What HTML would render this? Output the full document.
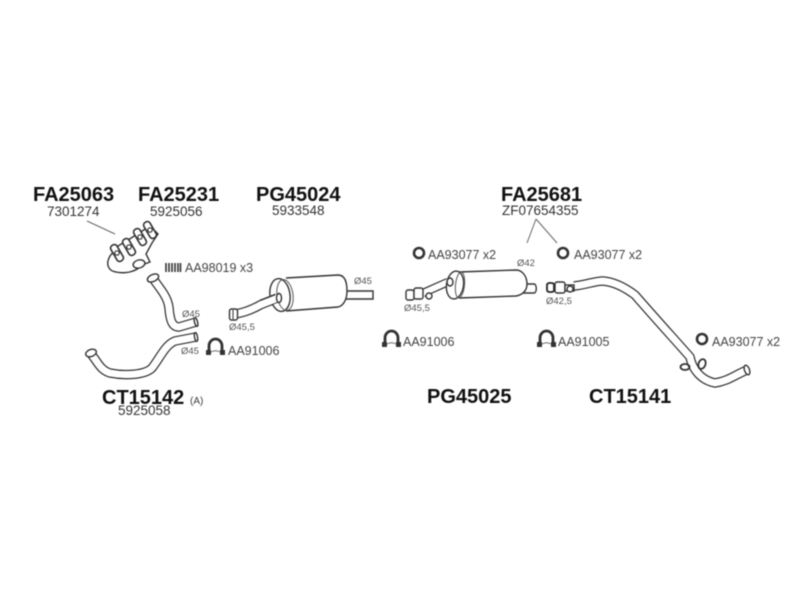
<!DOCTYPE html>
<html><head><meta charset="utf-8">
<style>
html,body{margin:0;padding:0;background:#fff;width:800px;height:600px;overflow:hidden}
svg{display:block;filter:blur(.4px)}
text{font-family:"Liberation Sans",sans-serif;fill:#3a3a3a}
.b{font-weight:bold;font-size:20px;fill:#111}
.n{font-size:13.5px;fill:#333}
.l{font-size:12.5px;fill:#444}
.d{font-size:9.5px;fill:#555}
.o{fill:none;stroke:#333;stroke-linejoin:round;stroke-linecap:butt}
.w{fill:none;stroke:#fff;stroke-linejoin:round;stroke-linecap:butt}
.s{fill:#fff;stroke:#333;stroke-width:1.4}
.r{fill:none;stroke:#333;stroke-width:2.6}
</style></head><body>
<svg width="800" height="600" viewBox="0 0 800 600" xmlns="http://www.w3.org/2000/svg">
<defs>
<g id="c"><path d="M210 354V346a6.5 7 0 0 1 13 0V354" fill="none" stroke="#333" stroke-width="2.8"/><path d="M207 350h5v5h-5zM221 350h5v5h-5z" fill="#333"/><path d="M212 352q4.500 -2.500 9 0" fill="none" stroke="#666"/></g>
</defs>
<!-- Titles -->
<text class="b" x="33" y="201">FA25063</text><text class="n" x="47" y="216">7301274</text>
<text class="b" x="138" y="201">FA25231</text><text class="n" x="150" y="216">5925056</text>
<text class="b" x="256" y="201">PG45024</text><text class="n" x="272" y="215">5933548</text>
<text class="b" x="501" y="201">FA25681</text><text class="n" x="502" y="215">ZF07654355</text>
<text class="b" x="102" y="404">CT15142</text><text x="190" y="404" font-size="10" fill="#555">(A)</text><text class="n" x="118" y="415">5925058</text>
<text class="b" x="427" y="403">PG45025</text>
<text class="b" x="589" y="403">CT15141</text>
<!-- leader lines -->
<path d="M87 221L115 234" stroke="#666" fill="none"/>
<path d="M536 219L527 243M536 219L557 243" stroke="#666" fill="none"/>
<!-- Manifold -->
<path class="s" d="M110 256C105 265 109 271 116 272C125 274 136 272 142 265L150 262L146 254L152 243L158 234L150 226L128 240L118 246Z"/>
<g fill="#fff" stroke="#333" stroke-width="1.6">
<rect x="-3.500" y="-9" width="7" height="18" rx="3" transform="translate(117 253) rotate(-30)"/>
<rect x="-3.500" y="-9" width="7" height="18" rx="3" transform="translate(129 247) rotate(-30)"/>
<rect x="-3.500" y="-9" width="7" height="18" rx="3" transform="translate(140 237) rotate(-30)"/>
<rect x="-3.500" y="-9" width="7" height="18" rx="3" transform="translate(150 230) rotate(-30)"/>
</g>
<g fill="none" stroke="#333" stroke-width="1.2"><circle cx="117" cy="253" r="2.2"/><circle cx="129" cy="247" r="2.2"/><circle cx="140" cy="237" r="2.2"/><circle cx="150" cy="230" r="2.2"/></g>
<ellipse class="s" cx="139" cy="264" rx="6" ry="4" transform="rotate(-15 139 264)"/>
<!-- spring -->
<g stroke="#333" stroke-width="1.6"><path d="M166 263v9M169 263v9M172 263v9M175 263v9M178 263v9M180.500 263v9"/></g>
<text class="l" x="185" y="272">AA98019 x3</text>
<!-- upper pipe -->
<path class="o" stroke-width="9.500" d="M154 280C162 291 168 298 169 308C170 320 172 327 179 327L196 322"/>
<path class="w" stroke-width="7" d="M154 280C162 291 168 298 169 308C170 320 172 327 179 327L196 322"/>
<ellipse class="s" cx="153" cy="278" rx="6" ry="3.500" transform="rotate(-25 153 278)"/>
<ellipse class="s" cx="196" cy="322" rx="1.500" ry="4.500" transform="rotate(-15 196 322)"/>
<text class="d" x="182" y="317">Ø45</text>
<!-- lower pipe -->
<path class="o" stroke-width="9.500" d="M91 354C98 362 100 370 110 373C125 376 145 375 152 368C160 358 165 345 175 341L196 337"/>
<path class="w" stroke-width="7" d="M91 354C98 362 100 370 110 373C125 376 145 375 152 368C160 358 165 345 175 341L196 337"/>
<ellipse class="s" cx="91" cy="353" rx="5.500" ry="3.500" transform="rotate(-20 91 353)"/>
<ellipse class="s" cx="196" cy="337" rx="1.500" ry="4.500" transform="rotate(-10 196 337)"/>
<text class="d" x="181" y="354">Ø45</text>
<use href="#c" x="-1" y="0"/>
<text class="l" x="228" y="355">AA91006</text>
<!-- muffler 1 -->
<path class="o" stroke-width="9.500" d="M234 314C245 313 255 308 262 304L278 298"/>
<path class="w" stroke-width="7" d="M234 314C245 313 255 308 262 304L278 298"/>
<rect x="229.500" y="309" width="8" height="11" rx="2" class="s"/>
<path d="M233 310v9" stroke="#333"/>
<path d="M342 291H373V299H342Z" class="s"/>
<path class="s" d="M286 278L338 275C344 275 347 280 347 291C347 300 343 306 338 307L286 311"/>
<ellipse class="s" cx="280" cy="295" rx="10" ry="16.500" transform="rotate(-8 280 295)"/>
<ellipse fill="none" stroke="#555" cx="285" cy="295" rx="8" ry="15.500" transform="rotate(-8 285 295)"/>
<path class="o" stroke-width="9.500" d="M262 304L277 298"/><path class="w" stroke-width="7" d="M260 305L278 298"/>
<ellipse class="s" cx="279" cy="298" rx="2.500" ry="4.500"/>
<text class="d" x="354" y="284">Ø45</text>
<text class="d" x="229" y="330">Ø45,5</text>
<!-- O-ring left -->
<circle cx="419" cy="253" r="5" class="r"/>
<text class="l" x="428" y="259">AA93077 x2</text>
<!-- muffler 2 -->
<path class="o" stroke-width="8.500" d="M423 293L448 282"/><path class="w" stroke-width="6" d="M421 294L450 281"/>
<rect x="406" y="290" width="8" height="10" rx="2" class="s"/><rect x="414" y="288" width="9" height="11" rx="2" class="s"/><circle cx="429" cy="296" r="3" class="s"/>
<path d="M522 284H534C537 284 537 293 534 293H522Z" class="s"/>
<path class="s" d="M459 272L516 270C522 270 527 276 527 284C527 291 522 295 516 296L459 298"/>
<ellipse class="s" cx="455" cy="285" rx="8.500" ry="14" transform="rotate(8 455 285)"/>
<ellipse fill="none" stroke="#555" cx="460" cy="285" rx="4.500" ry="13" transform="rotate(6 460 285)"/>
<ellipse class="s" cx="450" cy="282" rx="3" ry="4"/>
<text class="d" x="517" y="266">Ø42</text>
<text class="d" x="404" y="311">Ø45,5</text>
<use href="#c" x="175" y="-8"/>
<text class="l" x="403" y="346">AA91006</text>
<!-- pipe 3 -->
<path class="o" stroke-width="9.500" d="M574 286C585 285 595 281 603 281C615 282 627 289 635 295C655 318 675 340 690 357C692 368 700 380 715 383C728 381 735 375 747 370"/>
<path class="w" stroke-width="7" d="M574 286C585 285 595 281 603 281C615 282 627 289 635 295C655 318 675 340 690 357C692 368 700 380 715 383C728 381 735 375 747 370"/>
<rect x="547" y="283" width="7" height="9" rx="2" fill="#fff" stroke="#222" stroke-width="1.800"/><rect x="555" y="282" width="10" height="11" rx="2" class="s"/><rect x="565" y="285" width="9" height="6" class="s"/><circle cx="570" cy="289" r="3" class="s"/>
<ellipse class="s" cx="747" cy="370" rx="2.500" ry="5" transform="rotate(-20 747 370)"/>
<ellipse cx="702" cy="364" rx="3.500" ry="5" fill="none" stroke="#333" stroke-width="1.800" transform="rotate(20 702 364)"/>
<ellipse cx="685" cy="367" rx="4.500" ry="3" fill="none" stroke="#333" stroke-width="1.800"/>
<text class="d" x="546" y="304">Ø42,5</text>
<circle cx="563" cy="253" r="5" class="r"/>
<text class="l" x="574" y="259">AA93077 x2</text>
<use href="#c" x="330" y="-8"/>
<text class="l" x="558" y="346">AA91005</text>
<circle cx="702" cy="339" r="5" class="r"/>
<text class="l" x="712" y="346">AA93077 x2</text>
</svg>
</body></html>
